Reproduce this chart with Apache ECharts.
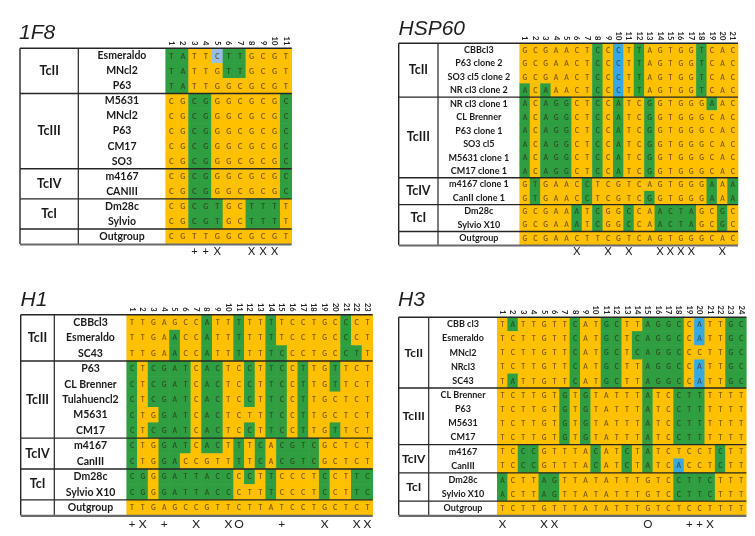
<!DOCTYPE html>
<html><head><meta charset="utf-8">
<script src="https://cdn.jsdelivr.net/npm/echarts@6/dist/echarts.min.js"></script>
<style>html,body{margin:0;padding:0;background:#fff}#c{width:755px;height:536px}</style>
</head><body><div id="c"></div><script>
// ================= DATA =================
// ---- 1F8 ----
const f8Cols = ['1','2','3','4','5','6','7','8','9','10','11'];
const f8Rows = ['Esmeraldo','MNcl2','P63','M5631','MNcl2','P63','CM17','SO3','m4167','CANIII','Dm28c','Sylvio','Outgroup'];
const f8Seq = ['TATTCTTGCGT','TATTGTTGCGT','TATTGGCGCGT',
  'CGCGGGCGCGC','CGCGGGCGCGC','CGCGGGCGCGC','CGCGGGCGCGC','CGCGGGCGCGC',
  'CGCGGGCGCGC','CGCGGGCGCGC','CGCGTGCTTTT','CGCGTGCTTTT','CGTTGGCGCGT'];
const f8Shade = ['GGOOBGGOOOO','GGOOOGGOOOO','GGOOOOOOOOO',
  'OOGGOOOOOOG','OOGGOOOOOOG','OOGGOOOOOOG','OOGGOOOOOOG','OOGGOOOOOOG',
  'OOGGOOOOOOG','OOGGOOOOOOG','OOGGGOOGGGO','OOGGGOOGGGO','OOOOOOOOOOO'];
const f8Groups = [['TcII',3],['TcIII',5],['TcIV',2],['TcI',2],['',1]];
const f8Marks = ['','','+','+','X','','','X','X','X',''];

// ---- HSP60 ----
const hsCols = ['1','2','3','4','5','6','7','8','9','10','11','12','13','14','15','16','17','18','19','20','21'];
const hsRows = ['CBBcl3','P63 clone 2','SO3 cl5 clone 2','NR cl3 clone 2','NR cl3 clone 1','CL Brenner','P63 clone 1','SO3 cl5','M5631 clone 1','CM17 clone 1','m4167 clone 1','CanII clone 1','Dm28c','Sylvio X10','Outgroup'];
const hsSeq = ['GCGAACTCCCTTAGTGGTCAC','GCGAACTCCCTTAGTGGTCAC','GCGAACTCCCTTAGTGGTCAC','ACAAACTCCCTTAGTGGTCAC',
  'ACAGGCTCCATCGGTGGGAAC','ACAGGCTCCATCGGTGGGCAC','ACAGGCTCCATCGGTGGGCAC','ACAGGCTCCATCGGTGGGCAC','ACAGGCTCCATCGGTGGGCAC','ACAGGCTCCATCGGTGGGCAC',
  'GTGAACCTCGTCAGTGGGAAA','GTGAACCTCGTCGGTGGGAAA','GCGAAATCGGCCAACTAGCGC','GCGAAATCGGCCAACTAGCGC','GCGAACTTCGTCAGTGGGCAC'];
const hsShade = ['OOOOOOOGOBOGOOOOOGOOO','OOOOOOOGOBOGOOOOOGOOO','OOOOOOOGOBOGOOOOOGOOO','GOGOOOOGOBOGOOOOOGOOO',
  'GOGGGOOGOGOOGOOOOOGOO','GOGGGOOGOGOOGOOOOOOOO','GOGGGOOGOGOOGOOOOOOOO','GOGGGOOGOGOOGOOOOOOOO','GOGGGOOGOGOOGOOOOOOOO','GOGGGOOGOGOOGOOOOOOOO',
  'OGOOOOGOOOOOOOOOOOGOG','OGOOOOGOOOOOGOOOOOGOG','OOOOOGOGOOGOOGGGGOOGO','OOOOOGOGOOGOOGGGGOOGO','OOOOOOOOOOOOOOOOOOOOO'];
const hsGroups = [['TcII',4],['TcIII',6],['TcIV',2],['TcI',2],['',1]];
const hsMarks = ['','','','','','X','','','X','','X','','','X','X','X','X','','','X',''];

// ---- H1 ----
const h1Cols = ['1','2','3','4','5','6','7','8','9','10','11','12','13','14','15','16','17','18','19','20','21','22','23'];
const h1Rows = ['CBBcl3','Esmeraldo','SC43','P63','CL Brenner','Tulahuencl2','M5631','CM17','m4167','CanIII','Dm28c','Sylvio X10','Outgroup'];
const h1Seq = ['TTGAGCCATTTTTTTCCTGCCCT','TTGAACCATTTTTTTCCTGCCCT','TTGAACCATTTTTTCCCTGCCTT',
  'CTCGATCACTCCTTCCTTGTTCT','CTCGATCACTCCTTCCTTGTTCT','CTCGATCACTCCTTCCTTGCTCT','CTGGATCACTCTTTCCTTGCTCT','CTCGATCACTCCTTCCTTGTTCT',
  'CTGGATCACTTTCACGTCGCTCT','CTGGACCGTTTTCACGTCGCTCT','CGGGATTACCCCTTCCCTCCTTC','CGGGATTACCCTTTCCCTCCTTC','TTGAGCCGTTCTTATCCTGCTCT'];
const h1Shade = ['OOOOOOOGOOGOOGOOOOOOGOO','OOOOGOOGOOGOOGOOOOOOGOO','OOOOGOOGOOGOOGGOOOOOGGO',
  'GOGGGGOGGOOGOGGOGOOGOOO','GOGGGGOGGOOGOGGOGOOGOOO','GOGGGGOGGOOGOGGOGOOOOOO','GOOGGGOGGOOOOGGOGOOOOOO','GOGGGGOGGOOGOGGOGOOGOOO',
  'GOOGGGOGGOGOGOGGGGOOOOO','GOOGGOOOOOGOGOGGGGOOOOO','GGOGGGGGGGOGOGOOOOGOOGG','GGOGGGGGGGOOOGOOOOGOOGG','OOOOOOOOOOOOOOOOOOOOOOO'];
const h1Groups = [['TcII',3],['TcIII',5],['TcIV',2],['TcI',2],['',1]];
const h1Marks = ['+','X','','+','','','X','','','X','O','','','','+','','','','X','','','X','X'];

// ---- H3 ----
const h3Cols = ['1','2','3','4','5','6','7','8','9','10','11','12','13','14','15','16','17','18','19','20','21','22','23','24'];
const h3Rows = ['CBB cl3','Esmeraldo','MNcl2','NRcl3','SC43','CL Brenner','P63','M5631','CM17','m4167','CanIII','Dm28c','Sylvio X10','Outgroup'];
const h3Seq = ['TATTGTTCATGCTTAGGCCATTGC','TCTTGTTCATGCTCAGGCCATTGC','TCTTGTTCATGCTCAGGCCCTTGC','TCTTGTTCATGCTTAGGCCATTGC','TATTGTTCATGCTTAGGCCATTGC',
  'TCTTGTGTGTATTTATCCTTTTTT','TCTTGTGTGTATTTATCCTTTTTT','TCTTGTGTGTATTTATCCTTTTTT','TCTTGTGTGTATTTATCCTTTTTT',
  'TCCCGTTTACATCTATCTCCTCTT','TCCCGTTTACATCTATCACCTCTT','ACTTAGTTATATTTGTCCTTCTTT','ACTTAGTTATATTTGTCCTTCTTT','TCTTGTTTATATTTGTCTCCTTTT'];
const h3Shade = ['OGOOOOOGOOGGOOGGGGOBOOGG','OOOOOOOGOOGGOGGGGGOBOOGG','OOOOOOOGOOGGOGGGGGOOOOGG','OOOOOOOGOOGGOOGGGGOBOOGG','OGOOOOOGOOGGOOGGGGOBOOGG',
  'OOOOOOGOGOOOOOGOOGGGOOOO','OOOOOOGOGOOOOOGOOGGGOOOO','OOOOOOGOGOOOOOGOOGGGOOOO','OOOOOOGOGOOOOOGOOGGGOOOO',
  'OOGGOOOOOGOOGOGOOOOOOGOO','OOGGOOOOOGOOGOGOOBOOOGOO','GOOOGGOOOOOOOOOOOGGGGOOO','GOOOGGOOOOOOOOOOOGGGGOOO','OOOOOOOOOOOOOOOOOOOOOOOO'];
const h3Groups = [['TcII',5],['TcIII',4],['TcIV',2],['TcI',2],['',1]];
const h3Marks = ['X','','','','X','X','','','','','','','','','O','','','','+','+','X','','',''];

// ================= LAYOUT / STYLE =================
const panels = [
  {title:'1F8', cols:f8Cols, rows:f8Rows, seq:f8Seq, shade:f8Shade, groups:f8Groups, marks:f8Marks,
   grid:{left:165.7, top:48.3, width:126, height:195.7}, tableLeft:20, divider:78.3,
   titleLeft:19, titleTop:23, blue:'#9dbde4', labelSize:10.5, groupSize:12.5, markSize:11, markMargin:2, letterSize:7},
  {title:'HSP60', cols:hsCols, rows:hsRows, seq:hsSeq, shade:hsShade, groups:hsGroups, marks:hsMarks,
   grid:{left:519.7, top:43.3, width:218.3, height:201.7}, tableLeft:398.7, divider:438,
   titleLeft:398.5, titleTop:19, blue:'#36a9e1', labelSize:9, groupSize:12.5, markSize:11, markMargin:1, letterSize:6.5},
  {title:'H1', cols:h1Cols, rows:h1Rows, seq:h1Seq, shade:h1Shade, groups:h1Groups, marks:h1Marks,
   grid:{left:126.7, top:314.7, width:246, height:200.6}, tableLeft:20.7, divider:54.3,
   titleLeft:20.5, titleTop:290, blue:'#36a9e1', labelSize:10.5, groupSize:12.5, markSize:12, markMargin:3, letterSize:6.5},
  {title:'H3', cols:h3Cols, rows:h3Rows, seq:h3Seq, shade:h3Shade, groups:h3Groups, marks:h3Marks,
   grid:{left:497.3, top:317.3, width:249, height:198}, tableLeft:398.7, divider:428.7,
   titleLeft:398, titleTop:290, blue:'#36a9e1', labelSize:9, groupSize:12, markSize:11.5, markMargin:3, letterSize:6.5}
];
const ORANGE = '#ffc000', GREEN = '#2f9e41';
const LINE = '#262626';
const FONT = 'Lato, "Open Sans", sans-serif';

const option = {animation:false, backgroundColor:'#fff', title:[], grid:[], xAxis:[], yAxis:[], series:[]};

panels.forEach((p, k) => {
  option.title.push({text:p.title, left:p.titleLeft, top:p.titleTop, padding:0,
    textStyle:{fontFamily:'"Liberation Sans", Arial, sans-serif', fontStyle:'italic', fontWeight:'normal', fontSize:21, color:'#1e1e1e'}});
  option.grid.push(Object.assign({containLabel:false}, p.grid));
  const ids = p.rows.map((r, i) => 'r' + i);
  option.xAxis.push({type:'category', gridIndex:k, position:'top', data:p.cols,
    axisLine:{show:false}, axisTick:{show:false}, splitLine:{show:false},
    axisLabel:{interval:0, rotate:90, margin:3, fontSize:7.5, fontWeight:'bold', fontFamily:FONT, color:'#222'}});
  option.xAxis.push({type:'category', gridIndex:k, position:'bottom', data:p.cols,
    axisLine:{show:false}, axisTick:{show:false}, splitLine:{show:false},
    axisLabel:{interval:0, margin:p.markMargin, fontSize:p.markSize, fontFamily:FONT, color:'#1e1e1e',
      formatter:(v, i) => p.marks[i]}});
  option.yAxis.push({type:'category', gridIndex:k, inverse:true, data:ids,
    axisLine:{show:false}, axisTick:{show:false}, splitLine:{show:false},
    axisLabel:{interval:0, align:'center', margin:p.grid.left - (p.divider + p.grid.left) / 2,
      fontSize:p.labelSize, fontWeight:'bold', fontFamily:FONT, color:'#1a1a1a',
      formatter:(v, i) => p.rows[i]}});

  // cells
  const cells = [];
  p.seq.forEach((s, r) => { for (let c = 0; c < s.length; c++) cells.push([c, r, s[c], p.shade[r][c]]); });
  option.series.push({type:'custom', xAxisIndex:2 * k, yAxisIndex:k, z:2,
    data:cells.map(d => [d[0], d[1]]),
    renderItem:(params, api) => {
      const d = cells[params.dataIndex];
      const pt = api.coord([d[0], d[1]]);
      const sz = api.size([1, 1]);
      const fill = d[3] === 'G' ? GREEN : d[3] === 'B' ? p.blue : ORANGE;
      return {type:'group', children:[
        {type:'rect', shape:{x:pt[0] - sz[0] / 2 - 0.3, y:pt[1] - sz[1] / 2 - 0.3, width:sz[0] + 0.6, height:sz[1] + 0.6},
         style:{fill:fill}},
        {type:'text', x:pt[0], y:pt[1] + 0.5, style:{text:d[2], fontSize:p.letterSize, fontWeight:'bold', fontFamily:FONT,
          fill:'rgba(45,35,20,0.62)', align:'center', verticalAlign:'middle'}}
      ]};
    }});

  // table frame & group labels
  const gStarts = []; let acc = 0;
  p.groups.forEach(g => { gStarts.push(acc); acc += g[1]; });
  option.series.push({type:'custom', xAxisIndex:2 * k, yAxisIndex:k, z:5,
    data:p.groups.map((g, i) => [0, gStarts[i]]),
    renderItem:(params, api) => {
      const i = params.dataIndex;
      const g = p.groups[i];
      const h = api.size([0, 1])[1];
      const top = api.coord([0, gStarts[i]])[1] - h / 2;
      const bottom = top + g[1] * h;
      const right = p.grid.left + p.grid.width;
      const ch = [
        {type:'line', shape:{x1:p.tableLeft, y1:top, x2:right, y2:top}, style:{stroke:LINE, lineWidth:i === 0 ? 1.6 : 1.4}},
        {type:'line', shape:{x1:p.tableLeft, y1:top, x2:p.tableLeft, y2:bottom}, style:{stroke:LINE, lineWidth:1.4}},
        {type:'line', shape:{x1:p.divider, y1:top, x2:p.divider, y2:bottom}, style:{stroke:LINE, lineWidth:1.2}},
      ];
      if (g[0]) ch.push({type:'text', x:(p.tableLeft + p.divider) / 2, y:(top + bottom) / 2,
        style:{text:g[0], fontSize:p.groupSize, fontWeight:'bold', fontFamily:FONT, fill:'#1a1a1a', align:'center', verticalAlign:'middle'}});
      if (i === p.groups.length - 1) ch.push({type:'line', shape:{x1:p.tableLeft, y1:bottom + 0.5, x2:right, y2:bottom + 0.5},
        style:{stroke:'#6a6a6a', lineWidth:2.2}});
      return {type:'group', children:ch};
    }});
});

const chart = echarts.init(document.getElementById('c'));
chart.setOption(option);
</script></body></html>
